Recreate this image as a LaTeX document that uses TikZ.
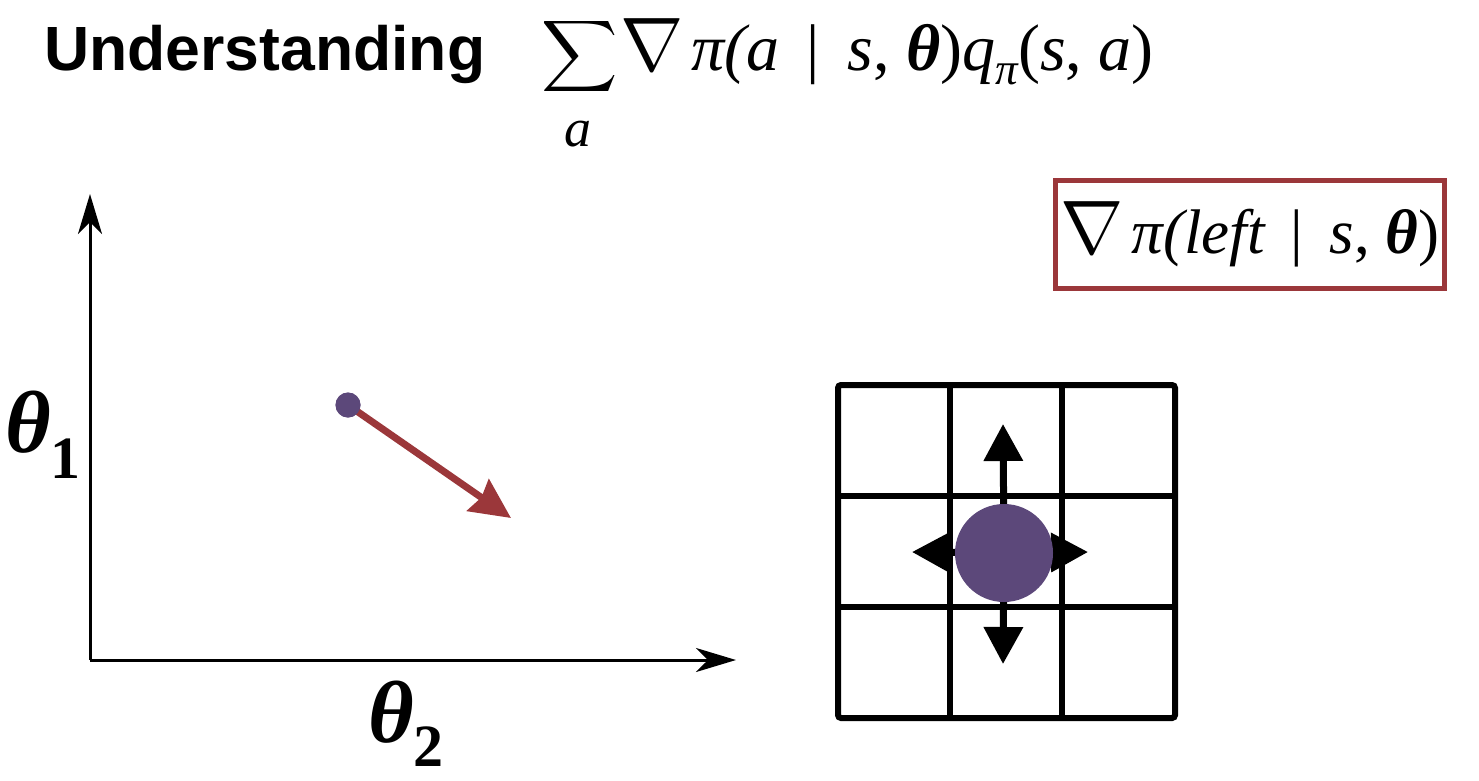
\documentclass[tikz,border=0pt]{standalone}
\usepackage{graphicx}
\usepackage{fontspec}
\setmainfont{Liberation Serif}
\newfontfamily\titlefont{Liberation Sans}
\usetikzlibrary{arrows.meta}
\definecolor{boxred}{RGB}{155,55,58}
\definecolor{dotpurple}{RGB}{92,72,122}
\tikzset{
  axisline/.style={line width=3pt, -{Stealth[length=40pt,width=24pt,inset=12pt]}},
  gradarrow/.style={boxred, line width=7pt, -{Stealth[length=40pt,width=38pt,inset=4pt]}},
  gridline/.style={line width=6pt},
  movearrow/.style={line width=7pt, -{Triangle[length=37pt,width=38pt]}},
  formula/.style={inner sep=0pt, font=\fontsize{66}{70}\selectfont},
  thetalabel/.style={inner sep=0pt, font=\fontsize{88}{92}\selectfont},
}
\newcommand{\bth}{{\bfseries\itshape θ}}
\newcommand{\bignabla}{\scalebox{3.05}{$\nabla$}\hspace{0.12em}}
\begin{document}
\begin{tikzpicture}[x=1pt,y=-1pt]
\useasboundingbox (0,0) rectangle (1479,780);
% title
\node[inner sep=0pt, anchor=base west, font=\titlefont\bfseries\fontsize{62.5}{66}\selectfont] (title) at (44,70) {Understanding};
\node[inner sep=0pt] (sum) at (580,56) {\scalebox{5.3}[5.0]{$\displaystyle\sum$}};
\node[inner sep=0pt, anchor=base, font=\fontsize{54}{56}\selectfont\itshape] (suma) at (578,146) {a};
\node[formula, anchor=base west] (main) at (620,70) {\bignabla{\itshape π(a} \,|\, {\itshape s}, \bth){\itshape q}\raisebox{-0.22em}{\fontsize{45}{48}\selectfont\itshape π}({\itshape s}, {\itshape a})};
% box
\node[draw=boxred, line width=5pt, minimum width=389pt, minimum height=108pt, inner sep=0pt, formula, font=\fontsize{63}{66}\selectfont] (grad) at (1250,234.5) {\bignabla{\itshape π(left} \,|\, {\itshape s}, \bth)};
% axes
\coordinate (origin) at (90,660);
\coordinate (ytip) at (90,194);
\coordinate (xtip) at (736,660);
\draw[axisline] (origin) -- (ytip);
\draw[axisline] (origin) -- (xtip);
\node[thetalabel, anchor=base west] (t1) at (5,452) {\bth\raisebox{-0.3em}{\fontsize{60}{62}\selectfont\bfseries 1}};
\node[thetalabel, anchor=base west] (t2) at (368,742) {\bth\raisebox{-0.28em}{\fontsize{60}{62}\selectfont\bfseries 2}};
% parameter point and gradient
\coordinate (gtip) at (511,518);
\node[fill=dotpurple, circle, minimum size=25pt, inner sep=0pt] (pt) at (348,405) {};
\draw[gradarrow] (pt.center) -- (gtip);
\fill[dotpurple] (pt.center) circle (12.5pt);
% grid
\draw[gridline, rounded corners=3pt] (838,385) rectangle (1175,718);
\draw[gridline] (950,385) -- (950,718);
\draw[gridline] (1062,385) -- (1062,718);
\draw[gridline] (838,496) -- (1175,496);
\draw[gridline] (838,607) -- (1175,607);
% agent and moves
\coordinate (agentc) at (1004,553);
\coordinate (up) at (1003,424);
\coordinate (down) at (1003,664);
\coordinate (left) at (912,552);
\coordinate (right) at (1088,552);
\draw[movearrow] (agentc) -- (up);
\draw[movearrow] (agentc) -- (down);
\draw[movearrow] (agentc) -- (left);
\draw[movearrow] (agentc) -- (right);
\node[fill=dotpurple, circle, minimum size=98pt, inner sep=0pt] (agent) at (agentc) {};
\end{tikzpicture}
\end{document}
